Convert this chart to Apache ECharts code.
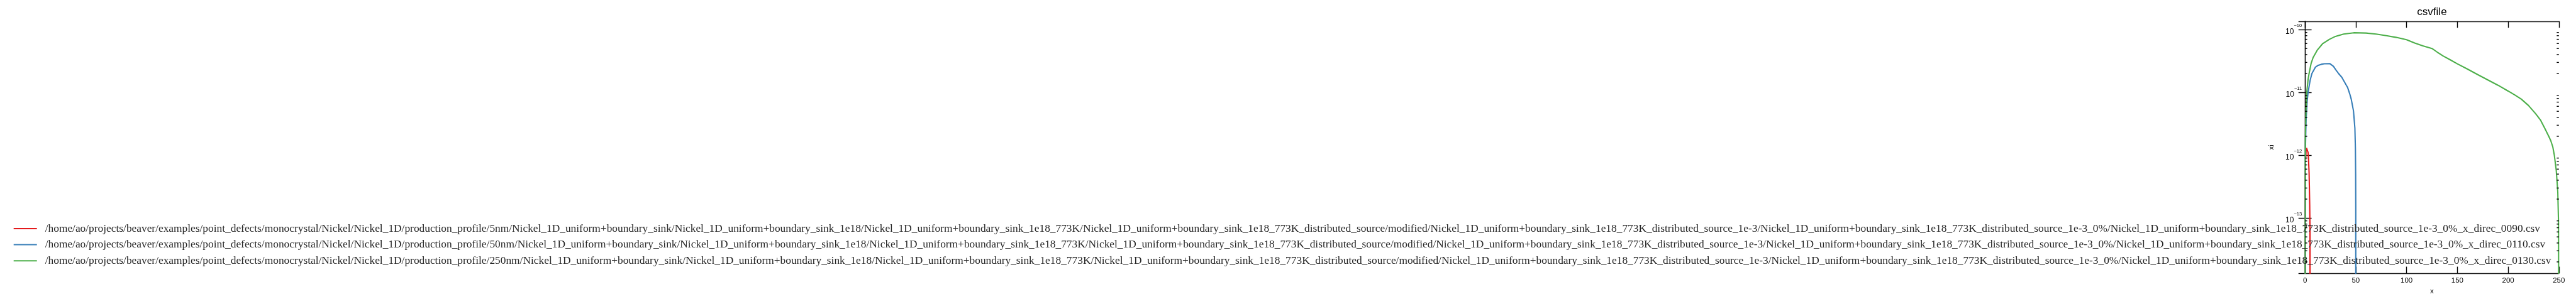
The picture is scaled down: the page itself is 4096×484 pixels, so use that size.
<!DOCTYPE html>
<html><head><meta charset="utf-8">
<script src="https://cdn.jsdelivr.net/npm/echarts@6/dist/echarts.min.js"></script>
<style>html,body{margin:0;padding:0;background:#fff}#c{width:4096px;height:484px}</style>
</head><body><div id="c"></div>
<script>
const S = 0.696;
const chartTitle = 'csvfile';
const xName = 'x';
const yName = 'xi';
const seriesNames = [
 '/home/ao/projects/beaver/examples/point_defects/monocrystal/Nickel/Nickel_1D/production_profile/5nm/Nickel_1D_uniform+boundary_sink/Nickel_1D_uniform+boundary_sink_1e18/Nickel_1D_uniform+boundary_sink_1e18_773K/Nickel_1D_uniform+boundary_sink_1e18_773K_distributed_source/modified/Nickel_1D_uniform+boundary_sink_1e18_773K_distributed_source_1e-3/Nickel_1D_uniform+boundary_sink_1e18_773K_distributed_source_1e-3_0%/Nickel_1D_uniform+boundary_sink_1e18_773K_distributed_source_1e-3_0%_x_direc_0090.csv',
 '/home/ao/projects/beaver/examples/point_defects/monocrystal/Nickel/Nickel_1D/production_profile/50nm/Nickel_1D_uniform+boundary_sink/Nickel_1D_uniform+boundary_sink_1e18/Nickel_1D_uniform+boundary_sink_1e18_773K/Nickel_1D_uniform+boundary_sink_1e18_773K_distributed_source/modified/Nickel_1D_uniform+boundary_sink_1e18_773K_distributed_source_1e-3/Nickel_1D_uniform+boundary_sink_1e18_773K_distributed_source_1e-3_0%/Nickel_1D_uniform+boundary_sink_1e18_773K_distributed_source_1e-3_0%_x_direc_0110.csv',
 '/home/ao/projects/beaver/examples/point_defects/monocrystal/Nickel/Nickel_1D/production_profile/250nm/Nickel_1D_uniform+boundary_sink/Nickel_1D_uniform+boundary_sink_1e18/Nickel_1D_uniform+boundary_sink_1e18_773K/Nickel_1D_uniform+boundary_sink_1e18_773K_distributed_source/modified/Nickel_1D_uniform+boundary_sink_1e18_773K_distributed_source_1e-3/Nickel_1D_uniform+boundary_sink_1e18_773K_distributed_source_1e-3_0%/Nickel_1D_uniform+boundary_sink_1e18_773K_distributed_source_1e-3_0%_x_direc_0130.csv'
];
const seriesColors = ['#e41a1c', '#377eb8', '#4daf4a'];

// red: 5nm
const redX = [0, 0.25, 0.5, 1, 1.5, 2, 2.5, 3, 3.45, 4, 4.3, 4.6, 4.9, 5];
const redY = [1e-16, 4e-13, 7.5e-13, 1.15e-12, 1.3e-12, 1.36e-12, 1.3e-12, 1.1e-12, 8.7e-13, 5.2e-13, 3.0e-13, 1.6e-13, 6e-14, 1e-16];
// blue: 50nm
const blueX = [0, 0.5, 1, 2, 3, 5, 6.8, 10.3, 13, 16, 19, 24.5, 28, 30.4, 33, 36.2, 39, 41.9, 44, 45.5, 47.7, 49.1, 49.6, 49.85, 49.97, 50];
const blueY = [1e-16, 1.5e-12, 3.5e-12, 7e-12, 1.0e-11, 1.55e-11, 2.0e-11, 2.53e-11, 2.7e-11, 2.8e-11, 2.86e-11, 2.87e-11, 2.6e-11, 2.28e-11, 2.0e-11, 1.74e-11, 1.45e-11, 1.2e-11, 9.5e-12, 7.8e-12, 5.1e-12, 2.7e-12, 1.3e-12, 5e-13, 1.5e-13, 1e-16];
// green: 250nm
const greenX = [0, 0.3, 1, 1.7, 3, 4, 6, 8, 12, 17.5, 24, 30, 38, 48, 60, 70, 80, 90, 100, 108, 116, 125, 130, 136, 143, 150, 160, 170, 180, 190, 200, 207, 213, 220, 227, 232, 236, 240, 242, 244, 245.5, 247.4, 248.9, 249.6, 250];
const greenY = [1e-16, 1.8e-12, 5.5e-12, 1.0e-11, 1.6e-11, 2.0e-11, 2.9e-11, 3.6e-11, 4.7e-11, 6.0e-11, 7.0e-11, 7.8e-11, 8.5e-11, 8.9e-11, 8.8e-11, 8.5e-11, 8.0e-11, 7.5e-11, 6.9e-11, 6.1e-11, 5.5e-11, 5.0e-11, 4.4e-11, 3.8e-11, 3.3e-11, 2.85e-11, 2.35e-11, 1.92e-11, 1.58e-11, 1.30e-11, 1.05e-11, 9.0e-12, 7.8e-12, 6.2e-12, 4.6e-12, 3.6e-12, 2.7e-12, 2.0e-12, 1.7e-12, 1.35e-12, 1.0e-12, 5.7e-13, 2.6e-13, 8.8e-14, 1e-16];

const xMin = 0, xMax = 250, xInterval = 50;
const yMin = 1.32e-14, yMax = 1.36e-10;
const yTickExps = [-13, -12, -11, -10];
const yTickLabels = ['\u221213', '\u221212', '\u221211', '\u221210'];
const yMinorMultipliers = [2, 3, 4, 5, 6, 7, 8, 9];
const yMinorDecades = [1e-14, 1e-13, 1e-12, 1e-11, 1e-10];

const minorTicks = [];
yMinorDecades.forEach(d => yMinorMultipliers.forEach(m => { const v = m * d; if (v > yMin && v < yMax) minorTicks.push([xMin, v]); }));

const axisColor = '#1a1a1a';
const axW = 2 * S;
const majorLen = 15 * S, minorLen = 5 * S;
const sans = 'Liberation Sans';
const serif = 'Liberation Serif';

// legend font size fitted so the first entry spans the same width as in the reference
const legendTextWidth = (5797 - 96) * S;
const mctx = document.createElement('canvas').getContext('2d');
mctx.font = '18px "' + serif + '"';
const legendFont = 18 * legendTextWidth / mctx.measureText(seriesNames[0]).width;

function yLabel(v) {
  const e = Math.round(Math.log10(v));
  const k = yTickExps.indexOf(e);
  if (k < 0) return '';
  return '{b|10}{s|' + yTickLabels[k] + '}';
}

const baseX = { type: 'value', min: xMin, max: xMax, interval: xInterval,
  axisLine: { onZero: false, lineStyle: { color: axisColor, width: axW } },
  axisTick: { inside: true, length: majorLen, lineStyle: { color: '#000', width: axW } },
  splitLine: { show: false } };
const baseY = { type: 'log', logBase: 10, min: yMin, max: yMax,
  axisLine: { lineStyle: { color: axisColor, width: axW } },
  axisTick: { inside: true, length: majorLen, lineStyle: { color: '#000', width: axW } },
  splitLine: { show: false } };

const mk = (xs, ys) => xs.map((x, i) => [x, ys[i]]);
const lineSeries = [mk(redX, redY), mk(blueX, blueY), mk(greenX, greenY)].map((d, i) => ({
  type: 'line', name: seriesNames[i], data: d, showSymbol: false, symbol: 'none',
  lineStyle: { color: seriesColors[i], width: 3 * S }, itemStyle: { color: seriesColors[i] },
  clip: true, animation: false, z: 3
}));

const chart = echarts.init(document.getElementById('c'), null, { renderer: 'canvas' });
chart.setOption({
  animation: false,
  backgroundColor: '#fff',
  grid: { left: 5266 * S, top: 48.5 * S, width: 580 * S, height: 576.5 * S, containLabel: false },
  graphic: [{ type: 'text', x: 5556 * S, y: 19, style: { text: chartTitle, align: 'center', verticalAlign: 'middle', fontFamily: sans, fontSize: 17, fill: '#000' } }],
  legend: {
    orient: 'vertical', left: 16.7, top: 350, itemWidth: 37, itemHeight: 2, itemGap: 7.6,
    icon: 'rect',
    data: seriesNames,
    textStyle: { fontFamily: serif, fontSize: legendFont, lineHeight: 18, color: '#262626', padding: [0, 0, 0, 8] }
  },
  xAxis: [
    Object.assign({}, baseX, { position: 'bottom', name: xName, nameLocation: 'middle', nameGap: 23,
      nameTextStyle: { fontFamily: sans, fontSize: 11.5, color: '#000' },
      axisLabel: { margin: 6, fontFamily: sans, fontSize: 11.5, color: '#000' } }),
    Object.assign({}, baseX, { position: 'top', axisLabel: { show: false } })
  ],
  yAxis: [
    Object.assign({}, baseY, { position: 'left', name: yName, nameLocation: 'middle', nameGap: 47, nameRotate: 90,
      nameTextStyle: { fontFamily: sans, fontSize: 11.5, color: '#000' },
      axisLabel: { margin: 5, showMinLabel: false, showMaxLabel: false, formatter: yLabel,
        rich: { b: { fontFamily: sans, fontSize: 12, color: '#000', lineHeight: 20, verticalAlign: 'bottom' },
                s: { fontFamily: sans, fontSize: 7.5, color: '#000', lineHeight: 20, verticalAlign: 'top' } } } }),
    Object.assign({}, baseY, { position: 'right', axisLabel: { show: false } })
  ],
  series: lineSeries.concat([{
    type: 'custom', name: 'minorTicks', data: minorTicks, silent: true, z: 4,
    renderItem: function (params, api) {
      const v = api.value(1);
      const pL = api.coord([xMin, v]);
      const pR = api.coord([xMax, v]);
      return { type: 'group', children: [
        { type: 'line', shape: { x1: pL[0], y1: pL[1], x2: pL[0] + minorLen, y2: pL[1] }, style: { stroke: '#000', lineWidth: axW } },
        { type: 'line', shape: { x1: pR[0] - minorLen, y1: pR[1], x2: pR[0], y2: pR[1] }, style: { stroke: '#000', lineWidth: axW } }
      ] };
    }
  }])
});
</script></body></html>
